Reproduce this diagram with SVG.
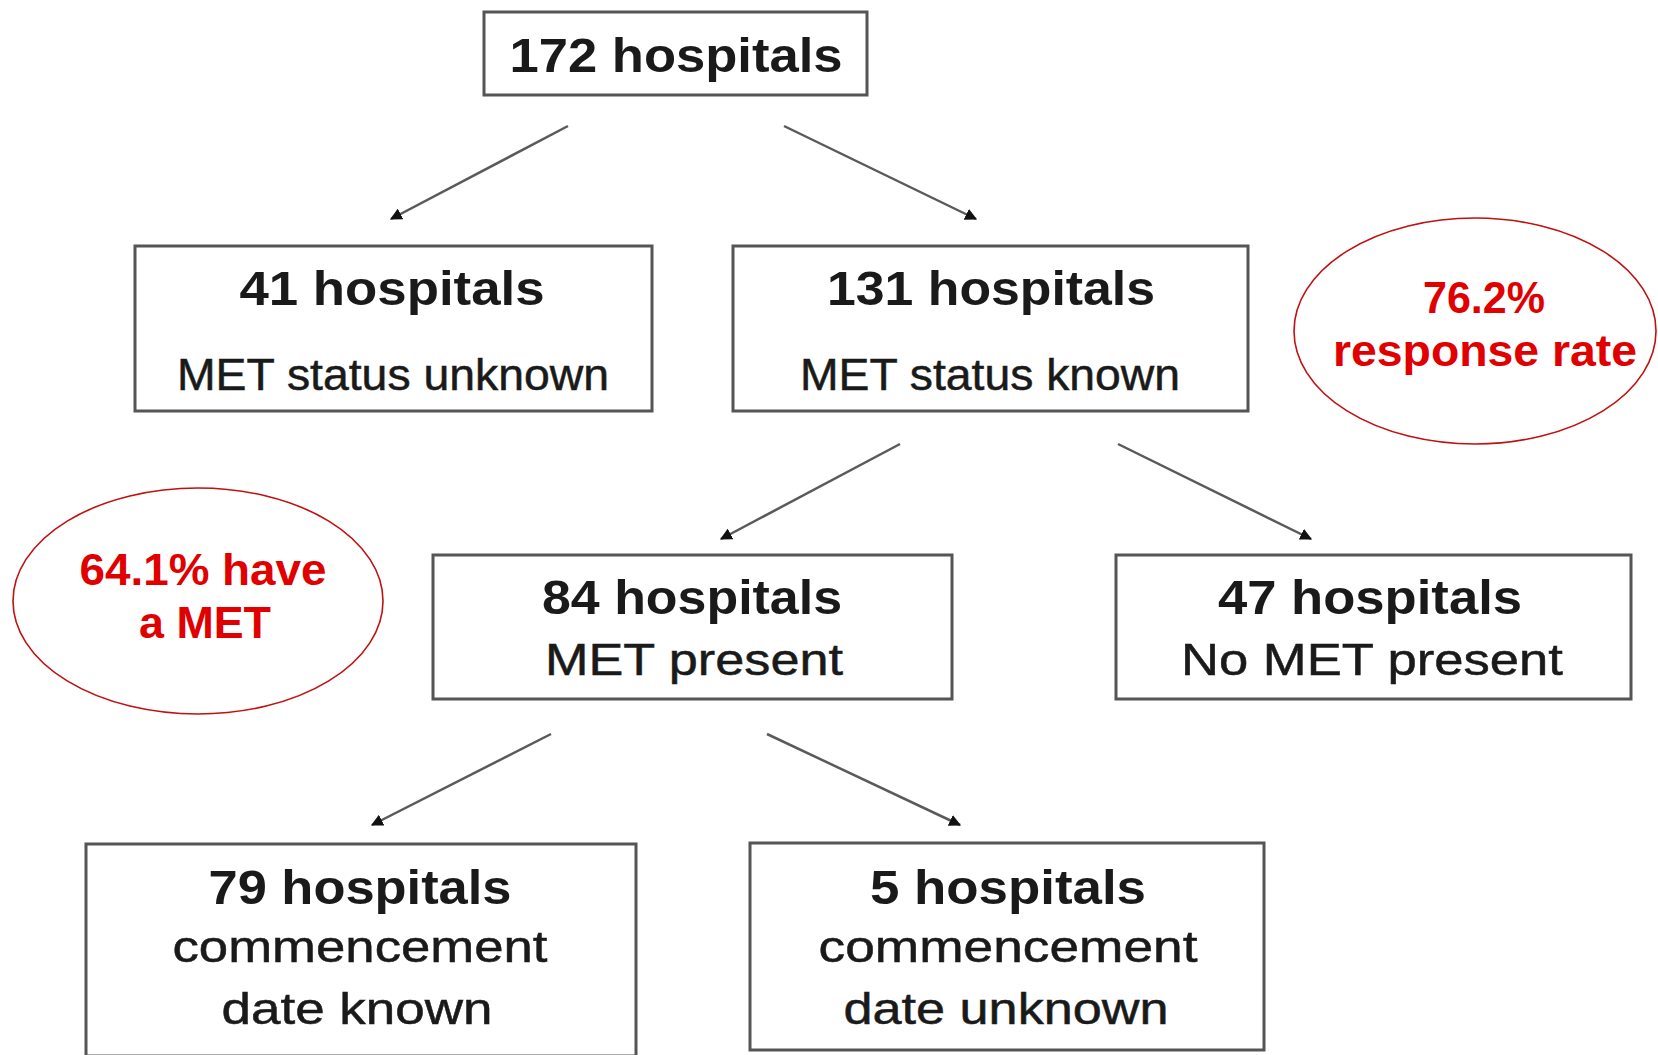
<svg xmlns="http://www.w3.org/2000/svg" width="1658" height="1055" viewBox="0 0 1658 1055">
<defs>
<style>
.box{fill:#fff;stroke:#555;stroke-width:3}
.b{font-family:"Liberation Sans",Arial,sans-serif;font-weight:bold;font-size:48px;fill:#1a1a1a;text-anchor:middle}
.r{font-family:"Liberation Sans",Arial,sans-serif;font-size:44px;fill:#1a1a1a;stroke:#1a1a1a;stroke-width:0.5;text-anchor:middle}
.ell{fill:none;stroke:#c01010;stroke-width:1.6}
.red{font-family:"Liberation Sans",Arial,sans-serif;font-weight:bold;font-size:44px;fill:#e00000;text-anchor:middle}
.conn{stroke:#5a5a5a;stroke-width:2.5;fill:none;marker-end:url(#ah)}
</style>
<marker id="ah" viewBox="0 0 10 10" refX="9" refY="5" markerWidth="12" markerHeight="12" markerUnits="userSpaceOnUse" orient="auto">
<path d="M0,0 L10,5 L0,10 z" fill="#111"/>
</marker>
</defs>
<rect width="1658" height="1055" fill="#fff"/>
<g id="connectors">
<line class="conn" x1="568" y1="126" x2="391" y2="219"/>
<line class="conn" x1="784" y1="126" x2="976" y2="219"/>
<line class="conn" x1="900" y1="444" x2="721" y2="539"/>
<line class="conn" x1="1118" y1="444" x2="1311" y2="539"/>
<line class="conn" x1="551" y1="734" x2="372" y2="825"/>
<line class="conn" x1="767" y1="734" x2="960" y2="825"/>
</g>
<g id="n172">
<rect class="box" x="484" y="12" width="383" height="83"/>
<text class="b" x="676" y="72" textLength="333" lengthAdjust="spacingAndGlyphs">172 hospitals</text>
</g>
<g id="n41">
<rect class="box" x="135" y="246" width="517" height="165"/>
<text class="b" x="392" y="305" textLength="305" lengthAdjust="spacingAndGlyphs">41 hospitals</text>
<text class="r" x="393" y="390" textLength="432" lengthAdjust="spacingAndGlyphs">MET status unknown</text>
</g>
<g id="n131">
<rect class="box" x="733" y="246" width="515" height="165"/>
<text class="b" x="991" y="305" textLength="328" lengthAdjust="spacingAndGlyphs">131 hospitals</text>
<text class="r" x="990" y="390" textLength="380" lengthAdjust="spacingAndGlyphs">MET status known</text>
</g>
<g id="e762">
<ellipse class="ell" cx="1475" cy="331" rx="181" ry="113"/>
<text class="red" x="1484" y="313" textLength="122" lengthAdjust="spacingAndGlyphs">76.2%</text>
<text class="red" x="1485" y="366" textLength="304" lengthAdjust="spacingAndGlyphs">response rate</text>
</g>
<g id="e641">
<ellipse class="ell" cx="198" cy="601" rx="185" ry="113"/>
<text class="red" x="203" y="585" textLength="247" lengthAdjust="spacingAndGlyphs">64.1% have</text>
<text class="red" x="205" y="638" textLength="132" lengthAdjust="spacingAndGlyphs">a MET</text>
</g>
<g id="n84">
<rect class="box" x="433" y="555" width="519" height="144"/>
<text class="b" x="692" y="614" textLength="300" lengthAdjust="spacingAndGlyphs">84 hospitals</text>
<text class="r" x="694" y="675" textLength="298" lengthAdjust="spacingAndGlyphs">MET present</text>
</g>
<g id="n47">
<rect class="box" x="1116" y="555" width="515" height="144"/>
<text class="b" x="1370" y="614" textLength="304" lengthAdjust="spacingAndGlyphs">47 hospitals</text>
<text class="r" x="1372" y="675" textLength="382" lengthAdjust="spacingAndGlyphs">No MET present</text>
</g>
<g id="n79">
<rect class="box" x="86" y="844" width="550" height="212"/>
<text class="b" x="360" y="904" textLength="303" lengthAdjust="spacingAndGlyphs">79 hospitals</text>
<text class="r" x="360" y="962" textLength="375" lengthAdjust="spacingAndGlyphs">commencement</text>
<text class="r" x="357" y="1024" textLength="271" lengthAdjust="spacingAndGlyphs">date known</text>
</g>
<g id="n5">
<rect class="box" x="750" y="843" width="514" height="207"/>
<text class="b" x="1008" y="904" textLength="276" lengthAdjust="spacingAndGlyphs">5 hospitals</text>
<text class="r" x="1008" y="962" textLength="379" lengthAdjust="spacingAndGlyphs">commencement</text>
<text class="r" x="1006" y="1024" textLength="325" lengthAdjust="spacingAndGlyphs">date unknown</text>
</g>
</svg>
